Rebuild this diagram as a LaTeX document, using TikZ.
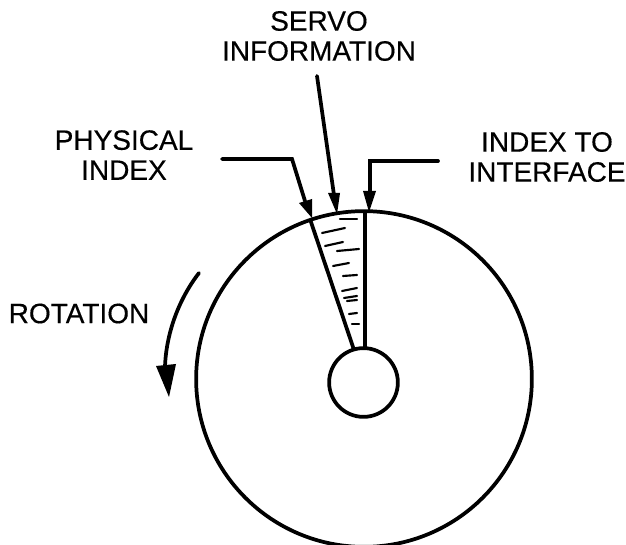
\documentclass[tikz,border=0pt]{standalone}
\usepackage{fontspec}
\setmainfont{Liberation Sans}
\newfontfamily\labfont{Liberation Sans}[FakeBold=0.35]
\tikzset{
  x=0.75pt,y=-0.75pt,
  ink/.style={draw=black,line width=2.8pt},
  leader/.style={ink,line cap=round,line join=miter},
  hatchmark/.style={draw=black,line width=1.6pt,line cap=round},
  lab/.style={font=\labfont\fontsize{21pt}{22.5pt}\selectfont,align=center,inner sep=0pt,text=black},
  head/.style={fill=black,draw=none}
}
\begin{document}
\begin{tikzpicture}
\useasboundingbox (0,0) rectangle (626,545);
\fill[white] (0,0) rectangle (626,545);
\node[lab] (servo) at (319,36) {SERVO\\INFORMATION};
\node[lab] (phys) at (124,155) {PHYSICAL\\INDEX};
\node[lab] (iface) at (547,157) {INDEX TO\\INTERFACE};
\node[lab] (rot) at (79,313.5) {ROTATION};
\coordinate (disccentre) at (364,379);
\coordinate (hubcentre) at (363.5,382.5);
\node[circle,draw=black,line width=2.8pt,minimum size=332*0.75pt+2.8pt,inner sep=0pt] (disc) at (disccentre) {};
\node[circle,draw=black,line width=2.8pt,minimum size=65*0.75pt+2.8pt,inner sep=0pt] (hub) at (hubcentre) {};
% sector
\coordinate (secL) at (310,219);
\coordinate (secR) at (365,213);
\coordinate (hubL) at (354,350);
\coordinate (hubR) at (365,349);
\draw[ink] (secL) -- (hubL);
\draw[ink] (secR) -- (hubR);
% hatch
\foreach \a/\b/\c/\d in {340/219/357/219, 322/233/345/228, 325/246/343/242, 337/251/359/249, 333/266/349/263, 343/276/357/275, 342/291/357/288, 344/298/357/296, 347/301/357/300, 349/314/357/313, 352/324/359/324}
  \draw[hatchmark] (\a,\b) -- (\c,\d);
% servo arrow
\coordinate (servoS) at (317,76);
\coordinate (servoT) at (337,214);
\draw[leader] (servoS) -- (334,195);
\fill[head] (servoT) -- (328,193) -- (340,193) -- cycle;
% physical
\coordinate (physS) at (222,159);
\coordinate (physB) at (292,159);
\coordinate (physT) at (312,218);
\draw[leader] (physS) -- (physB) -- (305,201);
\fill[head] (physT) -- (299,203) -- (312,199) -- cycle;
% index
\coordinate (indS) at (438,161);
\coordinate (indB) at (370,161);
\coordinate (indT) at (369,212);
\draw[leader] (indS) -- (indB) -- (370,193);
\fill[head] (indT) -- (363,191) -- (376,191) -- cycle;
% rotation
\coordinate (rotS) at (199,273);
\coordinate (rotT) at (169,397);
\draw[leader] (rotS) .. controls (178,300) and (166,335) .. (165,367);
\fill[head] (rotT) -- (156,366) -- (176,364) -- cycle;
\end{tikzpicture}
\end{document}
